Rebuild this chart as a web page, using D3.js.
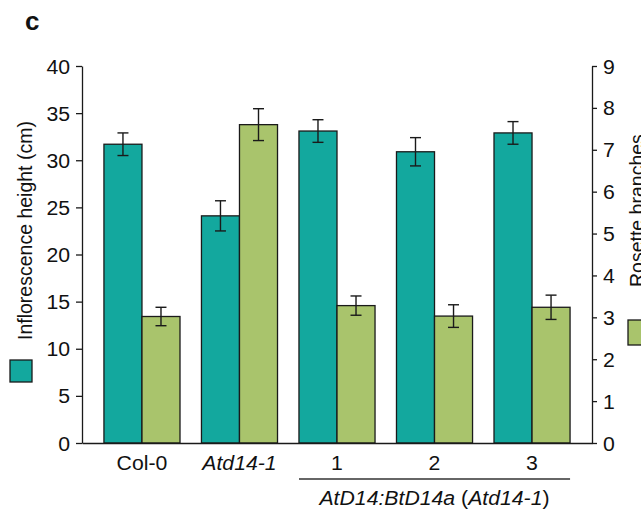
<!DOCTYPE html>
<html>
<head>
<meta charset="utf-8">
<script src="https://cdn.jsdelivr.net/npm/d3@7"></script>
<style>
  html, body { margin: 0; padding: 0; background: #fff; }
  svg { display: block; font-family: "Liberation Sans", Arial, Helvetica, sans-serif; }
</style>
</head>
<body>
<svg id="chart" width="641" height="513"></svg>
<script>
// Genotypes on the x axis
const genotypes = ["Col-0", "Atd14-1", "1", "2", "3"];
const italicGenotypes = ["Atd14-1"];

// Inflorescence height (cm), mean and error
const heightMean = [31.7, 24.1, 33.1, 30.9, 32.9];
const heightErr  = [1.2, 1.6, 1.2, 1.5, 1.2];

// Rosette branches (count), mean and error
const branchMean = [3.02, 7.6, 3.28, 3.03, 3.24];
const branchErr  = [0.22, 0.38, 0.23, 0.27, 0.29];

// Axis ticks
const heightTicks = [0, 5, 10, 15, 20, 25, 30, 35, 40];
const branchTicks = [0, 1, 2, 3, 4, 5, 6, 7, 8, 9];

const TEAL = "#13a89e";
const GREEN = "#a9c46c";
const INK = "#1a1a1a";
const FONT = "19.5px";
const WIDEN = 1.09;   // slightly wide lettering

const svg = d3.select("#chart");

const plotLeft = 82, plotRight = 592, plotTop = 66, plotBottom = 443;

const x = d3.scaleBand().domain(genotypes).range([plotLeft, plotRight])
  .paddingInner(0.22).paddingOuter(0.225);
const sub = d3.scaleBand().domain(["height", "branch"]).range([0, x.bandwidth()]);
const yL = d3.scaleLinear().domain([0, 40]).range([plotBottom, plotTop]);
const yR = d3.scaleLinear().domain([0, 9]).range([plotBottom, plotTop]);

const rows = genotypes.map((g, i) => ({
  g,
  h: heightMean[i], he: heightErr[i],
  b: branchMean[i], be: branchErr[i]
}));

// Stretch a text horizontally about its own anchor point
function widen(sel) {
  sel.each(function() {
    const t = d3.select(this);
    const tx = +t.attr("x") || 0, ty = +t.attr("y") || 0;
    t.attr("transform", `translate(${tx},${ty}) scale(${WIDEN},1) translate(${-tx},${-ty})`);
  });
}

// Bars
const groups = svg.append("g").selectAll("g").data(rows).join("g")
  .attr("transform", d => `translate(${x(d.g)},0)`);

groups.append("rect")
  .attr("x", sub("height")).attr("width", sub.bandwidth())
  .attr("y", d => yL(d.h)).attr("height", d => yL(0) - yL(d.h))
  .attr("fill", TEAL).attr("stroke", INK).attr("stroke-width", 1.3);

groups.append("rect")
  .attr("x", sub("branch")).attr("width", sub.bandwidth())
  .attr("y", d => yR(d.b)).attr("height", d => yR(0) - yR(d.b))
  .attr("fill", GREEN).attr("stroke", INK).attr("stroke-width", 1.3);

// Error bars
function errorBar(sel, cx, yTop, yBot) {
  const cap = 5.5;
  sel.append("line").attr("x1", cx).attr("x2", cx).attr("y1", yTop).attr("y2", yBot);
  sel.append("line").attr("x1", cx - cap).attr("x2", cx + cap).attr("y1", yTop).attr("y2", yTop);
  sel.append("line").attr("x1", cx - cap).attr("x2", cx + cap).attr("y1", yBot).attr("y2", yBot);
}
groups.each(function(d) {
  const g = d3.select(this).append("g").attr("stroke", INK).attr("stroke-width", 1.4);
  const cH = sub("height") + sub.bandwidth() / 2;
  const cB = sub("branch") + sub.bandwidth() / 2;
  errorBar(g, cH, yL(d.h + d.he), yL(d.h - d.he));
  errorBar(g, cB, yR(d.b + d.be), yR(d.b - d.be));
});

// Axes
function styleAxis(g) {
  g.select(".domain").attr("stroke", INK).attr("stroke-width", 1.3);
  g.selectAll(".tick line").attr("stroke", INK).attr("stroke-width", 1.3);
  g.selectAll(".tick text").attr("fill", "#111").style("font-size", FONT);
}

svg.append("g").attr("transform", `translate(${plotLeft},0)`)
  .call(d3.axisLeft(yL).tickValues(heightTicks).tickSize(6).tickSizeOuter(0).tickPadding(6))
  .call(styleAxis)
  .call(g => g.selectAll(".tick text").attr("dy", "0.36em").call(widen));

svg.append("g").attr("transform", `translate(${plotRight},0)`)
  .call(d3.axisRight(yR).tickValues(branchTicks).tickSize(5).tickSizeOuter(0).tickPadding(6))
  .call(styleAxis)
  .call(g => g.selectAll(".tick text").attr("dy", "0.36em").call(widen));

svg.append("g").attr("transform", `translate(0,${plotBottom})`)
  .call(d3.axisBottom(x).tickSize(0).tickSizeOuter(0).tickPadding(13.5))
  .call(styleAxis)
  .call(g => g.selectAll(".tick text")
    .style("font-style", d => italicGenotypes.includes(d) ? "italic" : "normal")
    .call(widen));

// Bracket under the transgenic lines
const lines = ["1", "2", "3"];
const bx0 = x(lines[0]), bx1 = x(lines[lines.length - 1]) + x.bandwidth();
svg.append("line").attr("x1", bx0).attr("x2", bx1).attr("y1", 479).attr("y2", 479)
  .attr("stroke", "#333").attr("stroke-width", 1.4);

const lineLabel = svg.append("text")
  .attr("x", x("2") + x.bandwidth() / 2).attr("y", 505)
  .attr("text-anchor", "middle").attr("fill", "#111").style("font-size", FONT);
lineLabel.append("tspan").style("font-style", "italic").text("AtD14:BtD14a");
lineLabel.append("tspan").text(" (");
lineLabel.append("tspan").style("font-style", "italic").text("Atd14-1");
lineLabel.append("tspan").text(")");
lineLabel.call(widen);

// Axis titles with colour keys
svg.append("text")
  .attr("transform", "translate(32,340) rotate(-90)")
  .attr("fill", "#111").style("font-size", FONT)
  .text("Inflorescence height (cm)");
svg.append("rect").attr("x", 10).attr("y", 360).attr("width", 22).attr("height", 22)
  .attr("fill", TEAL).attr("stroke", INK).attr("stroke-width", 1.3);

svg.append("text")
  .attr("transform", "translate(644,287) rotate(-90)")
  .attr("fill", "#111").style("font-size", FONT)
  .text("Rosette branches");
svg.append("rect").attr("x", 628).attr("y", 320).attr("width", 22).attr("height", 25)
  .attr("fill", GREEN).attr("stroke", INK).attr("stroke-width", 1.3);

// Panel letter
svg.append("text").attr("x", 25).attr("y", 30)
  .attr("fill", "#111").style("font-size", "26px").style("font-weight", "bold")
  .text("c");
</script>
</body>
</html>
